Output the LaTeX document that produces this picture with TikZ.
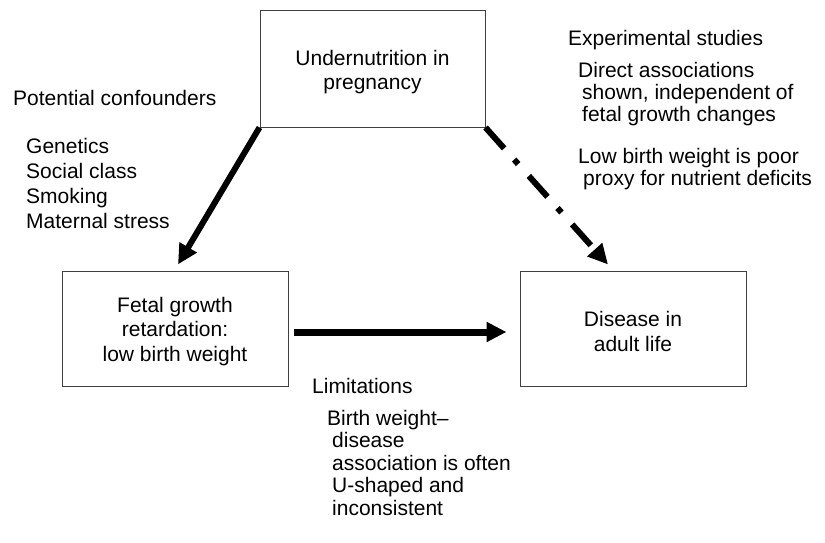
\documentclass[tikz,border=0pt]{standalone}
\usepackage{fontspec}
\setmainfont{Liberation Sans}
\usetikzlibrary{arrows.meta,calc}
\newcommand{\boxstrut}{\rule{0pt}{21pt}}
\begin{document}
\begin{tikzpicture}[x=1pt,y=-1pt,
  boxnode/.style={draw=black!75, line width=1pt, rectangle, minimum width=225pt, minimum height=116pt, align=center, inner sep=0pt, font=\fontsize{21}{24.5}\selectfont},
  txt/.style={anchor=north west, inner sep=0pt, align=left, font=\fontsize{21}{#1}\selectfont},
  txt/.default={22.5},
  bigarrow/.style={line width=6pt, -{Triangle[length=20pt,width=19pt]}},
  dasharrow/.style={line width=6pt, dash pattern=on 28pt off 15pt on 6pt off 16pt, -{Triangle[length=20pt,width=19pt]}}
]
\useasboundingbox (0,0) rectangle (825,543);
% boxes
\node[boxnode] (under) at (372.5,69) {\boxstrut Undernutrition in\\pregnancy};
\node[boxnode, minimum width=226pt, minimum height=115pt] (fetal) at (175,328.5) {\boxstrut Fetal growth\\retardation:\\low birth weight};
\node[boxnode, minimum width=226pt, minimum height=115pt] (disease) at (633,328.5) {\boxstrut Disease in\\adult life};
% side texts
\node[txt] (potconf) at (13,90) {Potential confounders};
\node[txt=25] (conflist) at (26,138) {Genetics\\Social class\\Smoking\\Maternal stress};
\node[txt] (exper) at (568,30) {Experimental studies};
\node[txt=22] (direct) at (578,62) {Direct associations\\\hspace*{4pt}shown, independent of\\\hspace*{4pt}fetal growth changes};
\node[txt=22] (lowbw) at (578,148) {Low birth weight is poor\\\hspace*{5pt}proxy for nutrient deficits};
\node[txt] (limit) at (312,378) {Limitations};
\node[txt=22.5] (bwdis) at (327,410) {Birth weight--\\\hspace*{5pt}disease\\\hspace*{5pt}association is often\\\hspace*{5pt}U-shaped and\\\hspace*{5pt}inconsistent};
% arrow end points
\coordinate (tipL) at ($(fetal.north)+(3,-6)$);
\coordinate (tipR) at ($(disease.north)+(-25,-6)$);
\coordinate (hstart) at ($(fetal.east)+(5,3.5)$);
\coordinate (hend) at ($(disease.west)+(-13,3.5)$);
% arrows
\draw[bigarrow] (under.south west) -- (tipL);
\draw[dasharrow] (under.south east) -- (tipR);
\draw[bigarrow, line width=7pt] (hstart) -- (hend);
\end{tikzpicture}
\end{document}
